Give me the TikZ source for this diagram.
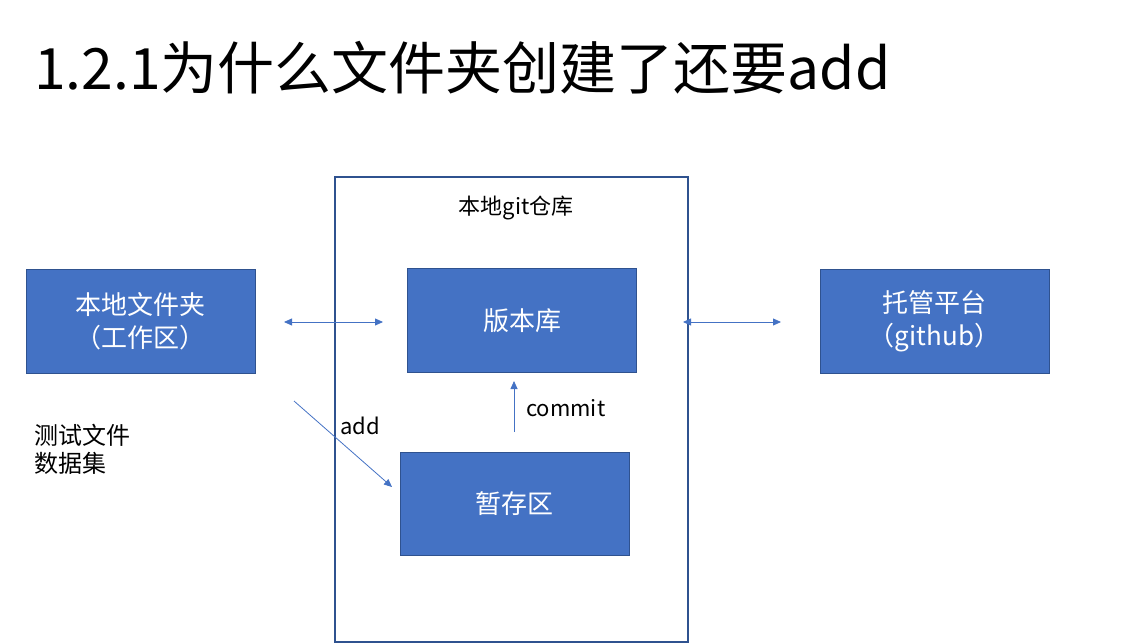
\documentclass[tikz,border=0pt]{standalone}
\usepackage{fontspec}
\setmainfont{Noto Sans CJK SC}
\usetikzlibrary{arrows.meta}
\definecolor{ofblue}{HTML}{4472C4}
\definecolor{ofdark}{HTML}{2F528F}
\tikzset{
  bluebox/.style={draw=ofdark, line width=1pt, fill=ofblue, text=white, minimum width=229pt, minimum height=103pt, inner sep=0pt, align=center, font=\fontsize{26}{33}\selectfont},
  conn/.style={draw=ofblue, line width=0.8pt, -{Triangle[length=8pt,width=7pt]}},
  dconn/.style={draw=ofblue, line width=0.8pt, {Triangle[length=8pt,width=7pt]}-{Triangle[length=8pt,width=7pt]}},
  lbl/.style={inner sep=0pt, font=\fontsize{22}{28}\selectfont},
}
\begin{document}
\begin{tikzpicture}[x=1pt,y=-1pt]
\useasboundingbox (0,0) rectangle (1130,644);
\node[anchor=west, inner sep=0pt, font=\fontsize{57}{60}\selectfont] (title) at (34,68) {1.2.1为什么文件夹创建了还要add};
\draw[ofdark, line width=1.2pt] (335,177) rectangle (688,642);
\node (outer) at (511.5,409.5) {};
\node[lbl, font=\fontsize{22}{26}\selectfont] (repo) at (516,208) {本地git仓库};
\node[bluebox] (local) at (140.5,321.5) {本地文件夹\\（工作区）};
\node[bluebox] (lib) at (522,320.5) {版本库};
\node[bluebox] (host) at (934.5,321.5) {托管平台\\（github）};
\node[bluebox] (stage) at (514.5,503.5) {暂存区};
\coordinate (a1) at (284,322);
\coordinate (a2) at (383,322);
\coordinate (b1) at (683,322);
\coordinate (b2) at (781,322);
\coordinate (c1) at (294,401);
\coordinate (c2) at (392,487);
\coordinate (d1) at (514,432);
\coordinate (d2) at (514,381);
\draw[dconn] (a1) -- (a2);
\draw[dconn] (b1) -- (b2);
\draw[conn] (c1) -- (c2);
\draw[conn] (d1) -- (d2);
\node[lbl, anchor=west] (add) at (340,426) {add};
\node[lbl, anchor=west] (commit) at (526,408) {commit};
\node[lbl, anchor=north west, align=left, font=\fontsize{24}{28}\selectfont] (test) at (34,424) {测试文件\\数据集};
\end{tikzpicture}
\end{document}
